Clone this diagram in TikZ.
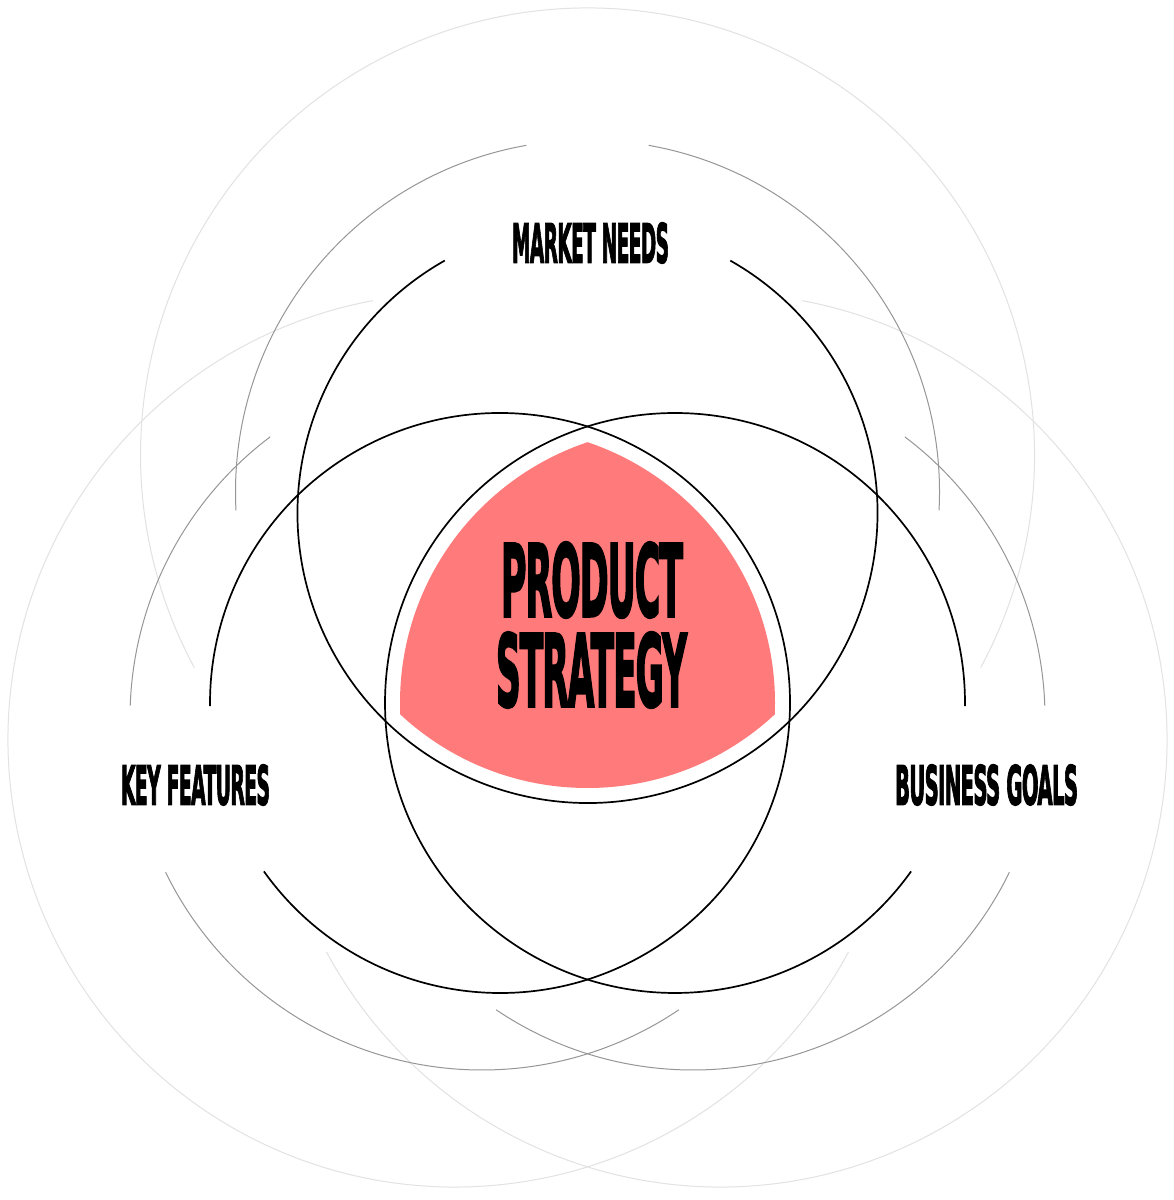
\documentclass[tikz,border=0pt]{standalone}
\usepackage{graphicx}
\usepackage{fontspec}
\newfontfamily\headfont[FakeBold=3,LetterSpace=-3]{DejaVu Sans Bold}
\definecolor{salmon}{RGB}{255,122,122}
\definecolor{midgray}{RGB}{150,150,150}
\definecolor{palegray}{RGB}{226,226,226}
\begin{document}
\begin{tikzpicture}[x=1pt,y=1pt,
  blackring/.style={line width=1.7pt, black},
  grayring/.style={line width=1pt, midgray},
  lightring/.style={line width=1pt, palegray},
  tagtext/.style={inner sep=0pt, font=\headfont}]
\useasboundingbox (0,0) rectangle (1174,1200);
\fill[white] (0,0) rectangle (1174,1200);
% centres
\coordinate (bT) at (587.5,687);
\coordinate (bL) at (500,497);
\coordinate (bR) at (675,497);
\coordinate (gT) at (587.5,708);
\coordinate (gL) at (482,482);
\coordinate (gR) at (693,482);
\coordinate (lT) at (587.5,745);
\coordinate (lL) at (455,460);
\coordinate (lR) at (720,460);
% red core
\begin{scope}
  \clip (bT) circle (275);
  \clip (bL) circle (275);
  \fill[salmon] (bR) circle (275);
\end{scope}
% light rings
\draw[lightring] (lT) ++(-28.4:447) arc[start angle=-28.4, end angle=208.4, radius=447];
\draw[lightring] (lL) ++(100.6:447) arc[start angle=100.6, end angle=331.7, radius=447];
\draw[lightring] (lR) ++(208.3:447) arc[start angle=208.3, end angle=439.4, radius=447];
% gray rings
\draw[grayring] (gT) ++(100:352) arc[start angle=100, end angle=183, radius=352];
\draw[grayring] (gT) ++(-3:352) arc[start angle=-3, end angle=80, radius=352];
\draw[grayring] (gL) ++(127:352) arc[start angle=127, end angle=178, radius=352];
\draw[grayring] (gL) ++(206:352) arc[start angle=206, end angle=304, radius=352];
\draw[grayring] (gR) ++(2:352) arc[start angle=2, end angle=53, radius=352];
\draw[grayring] (gR) ++(236:352) arc[start angle=236, end angle=334, radius=352];
% black rings
\draw[blackring] (bT) ++(119.5:290) arc[start angle=119.5, end angle=420.5, radius=290];
\draw[blackring] (bL) ++(215.5:290) arc[start angle=215.5, end angle=540.6, radius=290];
\draw[blackring] (bR) ++(-0.6:290) arc[start angle=-0.6, end angle=324.5, radius=290];
% labels
\node[tagtext] (mn) at (590.5,957) {\resizebox{157pt}{40pt}{MARKET NEEDS}};
\node[tagtext] (kf) at (195.5,415) {\resizebox{149pt}{40pt}{KEY FEATURES}};
\node[tagtext] (bg) at (986.5,415) {\resizebox{183pt}{40pt}{BUSINESS GOALS}};
\node[tagtext] (pr) at (592,620) {\resizebox{182pt}{74pt}{PRODUCT}};
\node[tagtext] (st) at (591.5,530) {\resizebox{191pt}{74pt}{STRATEGY}};
\end{tikzpicture}
\end{document}
